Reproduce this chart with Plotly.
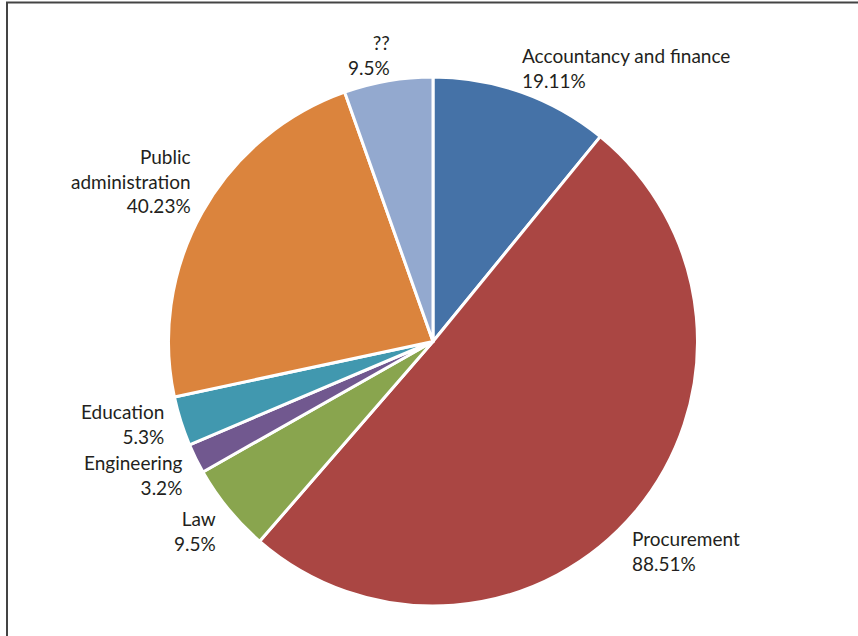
import plotly.graph_objects as go

categories = ["Accountancy and finance", "Procurement", "Law", "Engineering",
              "Education", "Public administration", "??"]
values = [19.11, 88.51, 9.5, 3.2, 5.3, 40.23, 9.5]
label_texts = ["Accountancy and finance<br>19.11%", "Procurement<br>88.51%",
               "Law<br>9.5%", "Engineering<br>3.2%", "Education<br>5.3%",
               "Public<br>administration<br>40.23%", "??<br>9.5%"]
colors = ["#4572A7", "#AA4643", "#89A54E", "#71588F", "#4198AF", "#DB843D", "#93A9CF"]

W, H = 858, 636
cx, cy, r = 433, 341.5, 264.5

fig = go.Figure(go.Pie(
    labels=categories,
    values=values,
    sort=False,
    direction="clockwise",
    rotation=0,
    marker=dict(colors=colors, line=dict(color="white", width=3)),
    textinfo="none",
    hoverinfo="label+value",
    showlegend=False,
    domain=dict(x=[(cx - r) / W, (cx + r) / W], y=[1 - (cy + r) / H, 1 - (cy - r) / H]),
))

# label anchor layout (pixel coords): x, y(center of block), side
label_layout = [
    (520, 67.5, "left"),
    (630, 551, "left"),
    (218, 531, "right"),
    (184, 475, "right"),
    (166, 424, "right"),
    (193, 181, "right"),
    (392, 55, "right"),
]

annotations = []
for txt, (x, y, side) in zip(label_texts, label_layout):
    annotations.append(dict(
        x=x / W, y=1 - y / H, xref="paper", yref="paper",
        text=txt, showarrow=False, xanchor=side, yanchor="middle", align=side,
        font=dict(family="Lato", size=19, color="#231F20"),
    ))

shapes = [
    dict(type="line", xref="paper", yref="paper", x0=7 / W, x1=7 / W, y0=0, y1=1 - 2.5 / H,
         line=dict(color="#444444", width=2)),
    dict(type="line", xref="paper", yref="paper", x0=6 / W, x1=1, y0=1 - 2.5 / H, y1=1 - 2.5 / H,
         line=dict(color="#444444", width=2)),
]

fig.update_layout(
    width=W, height=H,
    margin=dict(l=0, r=0, t=0, b=0),
    paper_bgcolor="white",
    plot_bgcolor="white",
    annotations=annotations,
    shapes=shapes,
)

fig.write_html("out.html")
